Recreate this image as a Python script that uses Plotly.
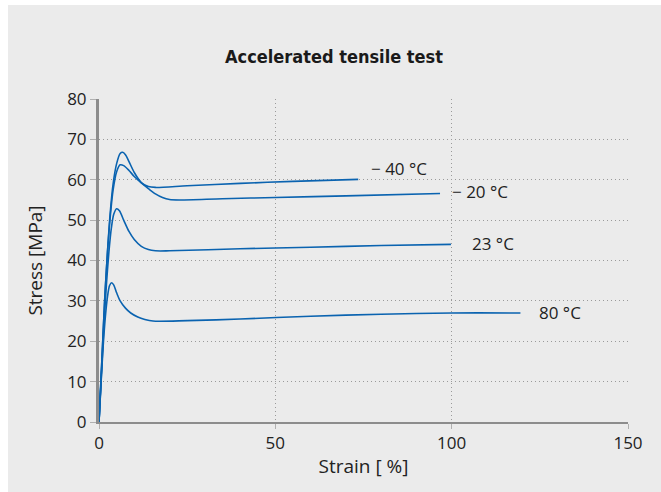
import plotly.graph_objects as go

# ---- data ----
strain_m40 = [0, 0.8, 1.6, 2.4, 3.2, 4, 5, 6, 6.7, 7.5, 8.5, 10, 12, 14, 16, 25, 40, 55, 73.5]
stress_m40 = [0, 15, 30, 42, 52, 59, 64, 66.5, 66.8, 66.2, 64.5, 61.8, 59.3, 58.3, 58.1, 58.5, 59.1, 59.6, 60.1]

strain_m20 = [0, 0.8, 1.6, 2.4, 3.2, 4, 5, 6, 7, 8.5, 10, 12, 14, 16, 18, 20, 23, 35, 50, 70, 96.7]
stress_m20 = [0, 15, 30, 42, 51, 57.5, 62, 63.7, 63.5, 62.3, 60.8, 59.2, 57.8, 56.5, 55.6, 55.1, 55, 55.3, 55.6, 56, 56.6]

strain_23 = [0, 0.7, 1.4, 2.1, 2.8, 3.5, 4.2, 5, 5.8, 7, 8.5, 10, 12, 14, 16, 20, 40, 60, 80, 99.8]
stress_23 = [0, 12, 24, 34, 42, 48, 51.5, 52.8, 52.3, 50, 47.2, 45.2, 43.5, 42.7, 42.4, 42.4, 42.9, 43.3, 43.7, 44]

strain_80 = [0, 0.6, 1.2, 1.8, 2.4, 3, 3.6, 4.2, 5, 6, 7.5, 9, 11, 13, 15.3, 25, 40, 60, 80, 100, 119.5]
stress_80 = [0, 10, 19, 26, 31, 33.8, 34.5, 33.9, 32, 30, 28.2, 27, 26, 25.4, 25, 25.1, 25.5, 26.2, 26.7, 27, 27]

series = [
    ("− 40 °C", strain_m40, stress_m40, 76.6, 62.9),
    ("− 20 °C", strain_m20, stress_m20, 99.6, 57.0),
    ("23 °C", strain_23, stress_23, 105.3, 44.3),
    ("80 °C", strain_80, stress_80, 124.3, 27.0),
]

x_ticks = [0, 50, 100, 150]
y_ticks = [0, 10, 20, 30, 40, 50, 60, 70, 80]

LINE = "#0a63b0"
FONT = "Open Sans, Noto Sans, sans-serif"

fig = go.Figure()
for name, xs, ys, lx, ly in series:
    fig.add_trace(go.Scatter(x=xs, y=ys, mode="lines", name=name,
                             line=dict(color=LINE, width=1.6, shape="spline", smoothing=0.8),
                             showlegend=False, hoverinfo="skip"))
    fig.add_annotation(x=lx, y=ly, xref="x", yref="y", text=name, showarrow=False,
                       xanchor="left", yanchor="middle",
                       font=dict(family=FONT, size=17, color="#222"))

W, H = 661, 492
ml, mr, mt, mb = 99, 33, 99, 70
pw, ph = W - ml - mr, H - mt - mb

# grey panel with white border on left/top
fig.add_shape(type="rect", xref="paper", yref="paper", layer="below",
              x0=(8 - ml) / pw, x1=(W - ml) / pw + 0.01,
              y0=(H - mb - H) / ph - 0.01, y1=(H - mb - 5) / ph,
              fillcolor="#ebebeb", line=dict(width=0))

fig.update_layout(
    width=W, height=H,
    margin=dict(l=ml, r=mr, t=mt, b=mb),
    paper_bgcolor="white", plot_bgcolor="rgba(0,0,0,0)",
    title=dict(text="<b>Accelerated tensile test</b>", x=334 / W, y=1 - 57 / H,
               xref="container", yref="container", xanchor="center", yanchor="middle",
               font=dict(family="DejaVu Sans Condensed, Roboto Condensed, Roboto, sans-serif",
                         size=18, color="#1a1a1a")),
    font=dict(family=FONT, color="#222"),
)

GRID = dict(showgrid=True, gridcolor="#9a9a9a", griddash="1px,3px", gridwidth=1)
fig.update_xaxes(range=[0, 150], tickvals=x_ticks, ticktext=[str(v) for v in x_ticks],
                 zeroline=False, showline=True, linecolor="#8c8c8c", linewidth=2,
                 ticks="outside", ticklen=5, tickcolor="#b0b0b0", tickwidth=1,
                 tickfont=dict(family=FONT, size=17, color="#222"),
                 title=dict(text="Strain [ %]", font=dict(family=FONT, size=19, color="#222"), standoff=6),
                 **GRID)
fig.update_yaxes(range=[0, 80], tickvals=y_ticks, ticktext=[str(v) for v in y_ticks],
                 zeroline=False, showline=True, linecolor="#8c8c8c", linewidth=3,
                 ticks="outside", ticklen=6, tickcolor="#b0b0b0", tickwidth=1,
                 tickfont=dict(family=FONT, size=17, color="#222"),
                 title=dict(text="Stress [MPa]", font=dict(family=FONT, size=19, color="#222"), standoff=20),
                 **GRID)

fig.write_html("out.html")
